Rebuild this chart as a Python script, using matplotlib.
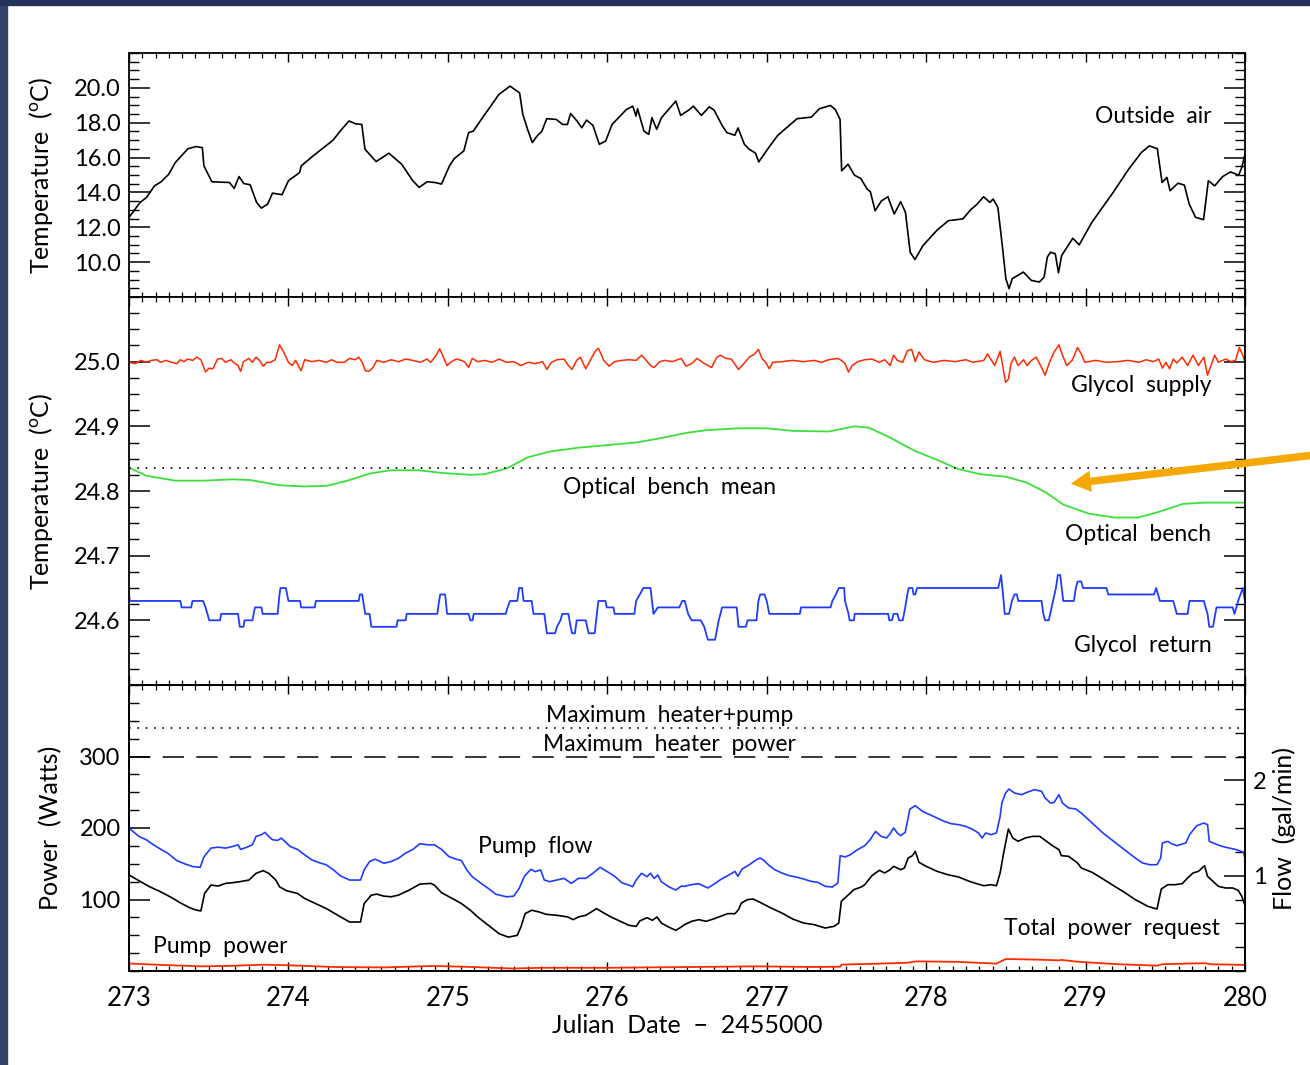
import matplotlib
matplotlib.use('Agg')
import matplotlib.pyplot as plt
from matplotlib.patches import Rectangle
from matplotlib.ticker import MultipleLocator, FixedLocator, FormatStrFormatter

plt.rcParams['font.family'] = ['Lato', 'DejaVu Sans']
plt.rcParams['mathtext.fontset'] = 'custom'
plt.rcParams['mathtext.rm'] = 'Lato'

# ---- outside air temperature (deg C)
air_day = [273.0, 273.07, 273.11, 273.16, 273.2, 273.25, 273.29, 273.37, 273.42, 273.46, 273.47, 273.52,
           273.63, 273.66, 273.69, 273.72, 273.76, 273.8, 273.83, 273.87, 273.9, 273.96, 274.0, 274.07,
           274.08, 274.15, 274.28, 274.33, 274.38, 274.42, 274.46, 274.48, 274.55, 274.63, 274.71, 274.78,
           274.82, 274.87, 274.92, 274.96, 275.01, 275.04, 275.1, 275.13, 275.16, 275.21, 275.32, 275.39,
           275.45, 275.47, 275.5, 275.53, 275.56, 275.59, 275.62, 275.68, 275.72, 275.75, 275.77, 275.81,
           275.84, 275.87, 275.91, 275.95, 275.99, 276.03, 276.12, 276.16, 276.18, 276.19, 276.23, 276.26,
           276.28, 276.31, 276.34, 276.43, 276.46, 276.51, 276.54, 276.59, 276.64, 276.67, 276.72, 276.75,
           276.8, 276.82, 276.86, 276.89, 276.93, 276.95, 277.02, 277.07, 277.19, 277.28, 277.33, 277.4,
           277.43, 277.46, 277.47, 277.51, 277.55, 277.59, 277.63, 277.65, 277.68, 277.72, 277.76, 277.8,
           277.84, 277.87, 277.9, 277.93, 277.98, 278.07, 278.14, 278.23, 278.28, 278.32, 278.36, 278.4,
           278.42, 278.45, 278.48, 278.5, 278.52, 278.54, 278.61, 278.66, 278.71, 278.74, 278.76, 278.78,
           278.81, 278.83, 278.85, 278.92, 278.96, 279.04, 279.17, 279.27, 279.35, 279.4, 279.45, 279.48,
           279.51, 279.53, 279.58, 279.62, 279.65, 279.69, 279.74, 279.77, 279.81, 279.86, 279.91, 279.96,
           279.98, 280.0]
air_temp = [12.57, 13.43, 13.71, 14.38, 14.6, 15.05, 15.71, 16.51, 16.63, 16.57, 15.52, 14.61,
            14.57, 14.23, 14.91, 14.51, 14.44, 13.43, 13.1, 13.33, 13.96, 13.87, 14.67, 15.14,
            15.52, 16.06, 17.0, 17.58, 18.1, 17.94, 17.9, 16.48, 15.77, 16.25, 15.62, 14.67,
            14.29, 14.61, 14.57, 14.48, 15.52, 15.94, 16.38, 17.43, 17.52, 18.19, 19.62, 20.1,
            19.71, 18.48, 17.62, 16.86, 17.24, 17.52, 18.23, 18.19, 17.9, 17.9, 18.53, 18.1,
            17.71, 18.15, 17.85, 16.76, 16.95, 17.9, 18.76, 18.95, 18.38, 18.8, 17.52, 17.33,
            18.29, 17.62, 18.29, 19.24, 18.42, 18.72, 18.95, 18.42, 18.91, 18.72, 17.85, 17.43,
            17.28, 17.7, 16.76, 16.48, 16.25, 15.75, 16.67, 17.28, 18.23, 18.32, 18.8, 18.99,
            18.76, 18.19, 15.24, 15.62, 14.99, 14.8, 14.19, 14.04, 12.95, 13.52, 13.75, 12.76,
            13.47, 12.86, 10.57, 10.15, 10.95, 11.85, 12.38, 12.48, 13.01, 13.33, 13.75, 13.43,
            13.62, 13.14, 10.76, 9.05, 8.48, 9.05, 9.43, 8.95, 8.86, 9.14, 10.29, 10.57,
            10.48, 9.39, 10.38, 11.37, 10.99, 12.29, 13.96, 15.33, 16.29, 16.67, 16.51, 14.57,
            14.86, 14.1, 14.53, 14.42, 13.33, 12.57, 12.44, 14.67, 14.38, 14.91, 15.18, 14.99,
            15.43, 16.19]

# ---- glycol supply temperature
sup_day = [273.0, 273.04, 273.074, 273.108, 273.141, 273.175, 273.198, 273.232, 273.266, 273.3, 273.322,
           273.345, 273.367, 273.401, 273.424, 273.451, 273.465, 273.48, 273.503, 273.526, 273.555, 273.582,
           273.605, 273.639, 273.661, 273.684, 273.7, 273.718, 273.752, 273.774, 273.797, 273.819, 273.842,
           273.865, 273.887, 273.917, 273.944, 273.966, 274.0, 274.023, 274.045, 274.079, 274.102, 274.147,
           274.192, 274.238, 274.271, 274.305, 274.35, 274.384, 274.418, 274.441, 274.463, 274.482, 274.504,
           274.531, 274.554, 274.599, 274.644, 274.69, 274.735, 274.78, 274.825, 274.87, 274.893, 274.927,
           274.949, 274.972, 274.995, 275.017, 275.051, 275.085, 275.108, 275.13, 275.153, 275.187, 275.232,
           275.277, 275.322, 275.368, 275.413, 275.458, 275.503, 275.548, 275.594, 275.621, 275.65, 275.684,
           275.729, 275.756, 275.779, 275.808, 275.831, 275.865, 275.887, 275.921, 275.944, 275.978, 276.012,
           276.045, 276.09, 276.136, 276.181, 276.215, 276.238, 276.271, 276.294, 276.328, 276.362, 276.407,
           276.441, 276.464, 276.493, 276.529, 276.563, 276.597, 276.631, 276.654, 276.688, 276.71, 276.744,
           276.778, 276.823, 276.846, 276.891, 276.925, 276.948, 276.97, 276.993, 277.016, 277.038, 277.095,
           277.163, 277.231, 277.298, 277.344, 277.389, 277.446, 277.468, 277.491, 277.513, 277.536, 277.57,
           277.615, 277.66, 277.706, 277.74, 277.774, 277.796, 277.819, 277.853, 277.882, 277.909, 277.932,
           277.955, 277.989, 278.045, 278.113, 278.181, 278.249, 278.294, 278.362, 278.385, 278.43, 278.464,
           278.48, 278.498, 278.516, 278.532, 278.554, 278.577, 278.611, 278.633, 278.661, 278.69, 278.724,
           278.746, 278.774, 278.803, 278.833, 278.855, 278.882, 278.916, 278.95, 278.973, 278.995, 279.063,
           279.131, 279.199, 279.267, 279.335, 279.38, 279.425, 279.459, 279.482, 279.504, 279.527, 279.55,
           279.572, 279.606, 279.64, 279.674, 279.708, 279.742, 279.765, 279.787, 279.81, 279.833, 279.878,
           279.912, 279.941, 279.964, 279.986, 280.0]
sup_temp = [24.999, 24.997, 25.002, 24.999, 25.002, 25.003, 24.999, 25.002, 24.999, 24.997, 25.003,
            25.0, 25.004, 25.002, 25.007, 25.003, 24.994, 24.984, 24.99, 24.989, 25.004, 25.005,
            24.999, 25.003, 24.998, 24.994, 24.985, 25.0, 25.005, 24.999, 25.007, 25.002, 24.993,
            24.999, 24.999, 25.003, 25.026, 25.017, 24.999, 24.994, 25.002, 24.986, 25.003, 25.0,
            25.002, 24.999, 25.003, 24.999, 24.999, 25.005, 25.003, 25.007, 24.999, 24.986, 24.985,
            24.991, 25.002, 24.999, 25.003, 25.0, 25.004, 25.002, 24.999, 25.004, 24.999, 25.01,
            25.02, 25.007, 24.994, 24.999, 25.004, 25.002, 24.999, 24.991, 25.005, 25.0, 25.002,
            24.999, 25.004, 24.999, 25.0, 24.994, 24.999, 24.997, 25.0, 24.988, 24.999, 25.003,
            25.004, 24.994, 24.988, 25.002, 25.007, 24.989, 24.999, 25.015, 25.021, 25.002, 24.993,
            25.0, 25.002, 25.003, 25.002, 25.01, 25.004, 24.994, 24.991, 25.0, 25.002, 25.0,
            25.003, 25.005, 24.993, 24.997, 25.005, 24.999, 24.994, 24.991, 25.007, 25.01, 25.005,
            25.004, 24.988, 24.994, 25.007, 25.012, 25.019, 25.005, 24.999, 24.989, 24.999, 25.0,
            25.002, 25.0, 25.002, 24.999, 25.003, 25.005, 25.002, 24.997, 24.984, 24.994, 25.0,
            25.003, 25.004, 24.999, 25.003, 24.994, 25.01, 25.002, 24.999, 25.017, 25.019, 25.0,
            25.015, 25.003, 24.999, 25.002, 25.0, 25.003, 24.999, 25.002, 25.012, 24.994, 25.016,
            24.994, 24.968, 24.973, 24.997, 25.007, 24.994, 25.003, 24.994, 25.002, 25.007, 24.991,
            24.979, 24.999, 25.015, 25.026, 25.01, 24.994, 25.002, 25.022, 25.012, 24.999, 25.002,
            24.999, 25.0, 25.002, 24.999, 25.003, 25.0, 25.004, 24.99, 24.999, 24.989, 25.004,
            24.998, 25.007, 24.994, 25.01, 24.994, 25.007, 24.979, 24.994, 25.01, 24.999, 25.004,
            25.0, 25.002, 25.022, 25.01, 24.999]

# ---- optical bench temperature
bench_day = [273.0, 273.11, 273.29, 273.47, 273.65, 273.76, 273.94, 274.1, 274.24, 274.37, 274.51, 274.64,
             274.82, 274.96, 275.14, 275.23, 275.37, 275.5, 275.64, 275.82, 276.0, 276.18, 276.32, 276.5,
             276.62, 276.82, 277.0, 277.16, 277.39, 277.55, 277.64, 277.77, 277.93, 278.07, 278.2, 278.34,
             278.5, 278.63, 278.75, 278.86, 279.02, 279.18, 279.33, 279.45, 279.61, 279.74, 280.0]
bench_temp = [24.836, 24.8235, 24.816, 24.816, 24.818, 24.817, 24.809, 24.807, 24.808, 24.816, 24.827, 24.832,
              24.832, 24.828, 24.825, 24.826, 24.835, 24.852, 24.861, 24.867, 24.871, 24.875, 24.881, 24.89,
              24.894, 24.897, 24.897, 24.893, 24.892, 24.9, 24.898, 24.883, 24.862, 24.848, 24.834, 24.826,
              24.822, 24.813, 24.798, 24.779, 24.765, 24.759, 24.759, 24.767, 24.78, 24.782, 24.782]
bench_mean = 24.835

# ---- glycol return temperature (0.01 C steps)
ret_day = [273.0, 273.005, 273.322, 273.33, 273.39, 273.398, 273.465, 273.48, 273.492, 273.503, 273.571,
           273.578, 273.684, 273.695, 273.718, 273.725, 273.774, 273.79, 273.831, 273.838, 273.932, 273.944,
           273.95, 273.984, 274.0, 274.072, 274.08, 274.165, 274.172, 274.441, 274.448, 274.463, 274.475,
           274.482, 274.509, 274.52, 274.678, 274.685, 274.735, 274.742, 274.934, 274.945, 274.952, 274.983,
           274.995, 275.13, 275.141, 275.155, 275.162, 275.363, 275.375, 275.39, 275.435, 275.447, 275.465,
           275.475, 275.526, 275.537, 275.605, 275.621, 275.673, 275.684, 275.706, 275.718, 275.756, 275.77,
           275.779, 275.797, 275.808, 275.865, 275.883, 275.921, 275.944, 275.989, 275.996, 276.039, 276.046,
           276.17, 276.181, 276.204, 276.226, 276.271, 276.29, 276.317, 276.452, 276.47, 276.486, 276.507,
           276.529, 276.586, 276.608, 276.631, 276.676, 276.699, 276.71, 276.72, 276.812, 276.823, 276.869,
           276.88, 276.936, 276.948, 276.959, 276.986, 277.0, 277.016, 277.208, 277.215, 277.4, 277.412,
           277.434, 277.452, 277.486, 277.491, 277.513, 277.52, 277.547, 277.552, 277.762, 277.769, 277.785,
           277.796, 277.82, 277.83, 277.853, 277.869, 277.882, 277.891, 277.914, 277.921, 277.932, 277.943,
           278.452, 278.47, 278.486, 278.493, 278.52, 278.538, 278.554, 278.57, 278.577, 278.724, 278.735,
           278.746, 278.769, 278.787, 278.814, 278.826, 278.841, 278.86, 278.927, 278.939, 278.95, 278.973,
           278.984, 279.131, 279.142, 279.43, 279.443, 279.466, 279.55, 279.572, 279.64, 279.652, 279.742,
           279.753, 279.765, 279.776, 279.799, 279.821, 279.923, 279.934, 279.946, 279.957, 279.986, 280.0]
ret_temp = [24.64, 24.63, 24.63, 24.62, 24.62, 24.63, 24.63, 24.62, 24.61, 24.60, 24.60,
            24.61, 24.61, 24.59, 24.59, 24.60, 24.60, 24.62, 24.62, 24.61, 24.61, 24.64,
            24.65, 24.65, 24.63, 24.63, 24.62, 24.62, 24.63, 24.63, 24.64, 24.64, 24.62,
            24.61, 24.61, 24.59, 24.59, 24.60, 24.60, 24.61, 24.61, 24.63, 24.64, 24.64,
            24.61, 24.61, 24.60, 24.60, 24.61, 24.61, 24.62, 24.63, 24.63, 24.65, 24.65,
            24.63, 24.63, 24.61, 24.61, 24.58, 24.58, 24.59, 24.60, 24.61, 24.61, 24.59,
            24.58, 24.58, 24.60, 24.60, 24.58, 24.58, 24.63, 24.63, 24.62, 24.62, 24.61,
            24.61, 24.63, 24.64, 24.65, 24.65, 24.61, 24.62, 24.62, 24.63, 24.63, 24.61,
            24.60, 24.60, 24.59, 24.57, 24.57, 24.60, 24.61, 24.62, 24.62, 24.59, 24.59,
            24.60, 24.60, 24.63, 24.64, 24.64, 24.63, 24.61, 24.61, 24.62, 24.62, 24.63,
            24.64, 24.65, 24.65, 24.63, 24.61, 24.60, 24.60, 24.61, 24.61, 24.60, 24.60,
            24.61, 24.61, 24.60, 24.60, 24.62, 24.64, 24.65, 24.65, 24.64, 24.64, 24.65,
            24.65, 24.67, 24.63, 24.61, 24.61, 24.63, 24.64, 24.64, 24.63, 24.63, 24.61,
            24.60, 24.60, 24.62, 24.65, 24.67, 24.67, 24.63, 24.63, 24.65, 24.66, 24.66,
            24.65, 24.65, 24.64, 24.64, 24.65, 24.63, 24.63, 24.61, 24.61, 24.63, 24.63,
            24.62, 24.61, 24.59, 24.59, 24.62, 24.62, 24.61, 24.62, 24.63, 24.65, 24.63]

# ---- pump flow (gal/min, right axis)
flow_day = [273.0, 273.062, 273.108, 273.153, 273.198, 273.243, 273.3, 273.356, 273.401, 273.447, 273.469,
            273.514, 273.56, 273.605, 273.65, 273.684, 273.7, 273.74, 273.774, 273.797, 273.831, 273.853,
            273.876, 273.899, 273.932, 273.955, 273.978, 274.011, 274.057, 274.102, 274.147, 274.192, 274.238,
            274.283, 274.328, 274.384, 274.452, 274.475, 274.509, 274.543, 274.599, 274.644, 274.69, 274.735,
            274.78, 274.825, 274.87, 274.915, 274.961, 275.006, 275.051, 275.085, 275.119, 275.153, 275.209,
            275.254, 275.3, 275.368, 275.413, 275.447, 275.481, 275.521, 275.548, 275.582, 275.605, 275.639,
            275.684, 275.729, 275.774, 275.819, 275.865, 275.91, 275.955, 276.0, 276.045, 276.091, 276.136,
            276.159, 276.181, 276.215, 276.249, 276.271, 276.294, 276.317, 276.339, 276.385, 276.43, 276.464,
            276.484, 276.529, 276.574, 276.608, 276.631, 276.665, 276.71, 276.755, 276.801, 276.819, 276.846,
            276.891, 276.936, 276.959, 276.982, 277.016, 277.05, 277.095, 277.14, 277.185, 277.231, 277.276,
            277.321, 277.366, 277.412, 277.446, 277.461, 277.491, 277.525, 277.57, 277.615, 277.649, 277.683,
            277.717, 277.751, 277.774, 277.796, 277.819, 277.841, 277.869, 277.898, 277.932, 277.977, 278.023,
            278.068, 278.113, 278.158, 278.203, 278.249, 278.294, 278.328, 278.351, 278.373, 278.407, 278.441,
            278.464, 278.475, 278.498, 278.52, 278.554, 278.599, 278.633, 278.679, 278.724, 278.746, 278.78,
            278.803, 278.833, 278.855, 278.894, 278.939, 278.973, 279.041, 279.109, 279.176, 279.244, 279.312,
            279.357, 279.403, 279.448, 279.471, 279.482, 279.516, 279.538, 279.572, 279.629, 279.652, 279.697,
            279.742, 279.765, 279.776, 279.81, 279.855, 279.9, 279.946, 279.991, 280.0]
flow_gpm = [1.5, 1.412, 1.377, 1.324, 1.278, 1.236, 1.158, 1.12, 1.095, 1.088, 1.194,
            1.289, 1.299, 1.289, 1.306, 1.324, 1.275, 1.299, 1.324, 1.412, 1.43, 1.454,
            1.412, 1.377, 1.37, 1.394, 1.359, 1.306, 1.275, 1.218, 1.165, 1.137, 1.113,
            1.06, 0.996, 0.954, 0.954, 1.06, 1.148, 1.173, 1.13, 1.148, 1.183, 1.236,
            1.275, 1.335, 1.324, 1.324, 1.275, 1.201, 1.173, 1.158, 1.06, 0.989, 0.919,
            0.866, 0.806, 0.778, 0.785, 0.866, 0.996, 1.067, 1.042, 1.06, 0.954, 0.937,
            0.954, 0.972, 0.919, 0.972, 0.972, 1.025, 1.088, 1.042, 0.996, 0.926, 0.901,
            0.884, 0.954, 1.025, 0.989, 1.025, 0.972, 1.007, 0.937, 0.884, 0.849, 0.891,
            0.888, 0.906, 0.916, 0.888, 0.871, 0.906, 0.958, 1.0, 1.045, 0.993, 1.07,
            1.115, 1.168, 1.185, 1.161, 1.105, 1.063, 1.028, 1.0, 0.986, 0.965, 0.941,
            0.93, 0.888, 0.881, 0.923, 1.21, 1.196, 1.22, 1.273, 1.315, 1.378, 1.465,
            1.413, 1.395, 1.441, 1.5, 1.448, 1.42, 1.455, 1.699, 1.734, 1.675, 1.64,
            1.605, 1.57, 1.545, 1.535, 1.517, 1.483, 1.448, 1.395, 1.448, 1.43, 1.448,
            1.622, 1.762, 1.867, 1.909, 1.867, 1.85, 1.874, 1.902, 1.885, 1.815, 1.762,
            1.769, 1.85, 1.762, 1.71, 1.699, 1.657, 1.552, 1.448, 1.36, 1.273, 1.185,
            1.133, 1.115, 1.115, 1.185, 1.343, 1.36, 1.336, 1.315, 1.343, 1.43, 1.524,
            1.552, 1.535, 1.36, 1.336, 1.308, 1.29, 1.273, 1.245, 1.175]

# ---- total power request (W)
total_day = [273.0, 273.062, 273.13, 273.198, 273.266, 273.322, 273.379, 273.424, 273.451, 273.474, 273.514,
             273.56, 273.605, 273.65, 273.695, 273.752, 273.797, 273.842, 273.876, 273.921, 273.944, 273.989,
             274.057, 274.102, 274.17, 274.238, 274.328, 274.384, 274.452, 274.475, 274.52, 274.554, 274.599,
             274.644, 274.69, 274.757, 274.825, 274.893, 274.915, 274.961, 275.028, 275.085, 275.141, 275.187,
             275.254, 275.322, 275.379, 275.435, 275.458, 275.485, 275.526, 275.571, 275.616, 275.684, 275.752,
             275.786, 275.819, 275.865, 275.91, 275.932, 275.978, 276.023, 276.091, 276.136, 276.181, 276.204,
             276.249, 276.283, 276.312, 276.339, 276.385, 276.43, 276.464, 276.484, 276.529, 276.574, 276.62,
             276.665, 276.71, 276.755, 276.801, 276.823, 276.841, 276.88, 276.914, 276.959, 277.027, 277.095,
             277.163, 277.231, 277.298, 277.366, 277.423, 277.452, 277.468, 277.502, 277.547, 277.593, 277.615,
             277.66, 277.706, 277.74, 277.774, 277.796, 277.841, 277.864, 277.887, 277.914, 277.932, 277.955,
             278.0, 278.068, 278.136, 278.203, 278.271, 278.317, 278.362, 278.407, 278.441, 278.464, 278.486,
             278.516, 278.543, 278.577, 278.622, 278.667, 278.713, 278.746, 278.792, 278.833, 278.848, 278.894,
             278.95, 278.973, 279.041, 279.109, 279.176, 279.244, 279.312, 279.391, 279.448, 279.475, 279.516,
             279.561, 279.606, 279.64, 279.674, 279.708, 279.746, 279.765, 279.799, 279.833, 279.878, 279.923,
             279.957, 279.98, 280.0]
total_watts = [134.3, 126.3, 117.8, 110.8, 102.8, 95.3, 88.7, 85.0, 84.0, 108.5, 120.2,
               118.8, 122.5, 123.5, 124.9, 127.2, 136.6, 140.4, 136.6, 127.2, 117.8, 112.2,
               108.5, 101.4, 94.4, 87.3, 75.6, 68.5, 68.5, 94.4, 106.1, 107.5, 104.7,
               103.8, 106.1, 113.1, 121.6, 122.5, 120.2, 109.4, 101.4, 94.4, 85.0, 75.6,
               63.9, 52.1, 47.4, 49.8, 61.5, 80.3, 85.0, 82.6, 79.3, 77.9, 75.6,
               71.8, 75.6, 77.9, 84.0, 87.3, 81.2, 75.6, 68.5, 63.9, 62.4, 70.0,
               74.6, 70.9, 75.6, 67.1, 61.5, 56.8, 61.5, 64.8, 69.5, 71.8, 69.5,
               72.7, 76.5, 80.2, 80.2, 85.8, 95.1, 99.8, 100.7, 96.0, 88.1, 81.1,
               72.7, 67.1, 64.8, 60.1, 62.5, 67.1, 97.4, 104.4, 113.8, 117.5, 120.7,
               133.3, 140.8, 137.1, 141.7, 146.4, 141.7, 144.1, 158.0, 161.3, 167.4, 152.0,
               146.4, 139.4, 134.7, 131.5, 125.4, 122.1, 119.3, 120.7, 119.3, 137.1, 165.0,
               198.6, 186.0, 181.4, 186.0, 188.3, 188.3, 182.8, 175.3, 169.7, 161.3, 160.4,
               151.0, 144.1, 138.0, 128.7, 119.3, 110.0, 99.8, 90.4, 86.7, 114.7, 120.7,
               120.7, 122.1, 130.1, 137.1, 139.4, 147.3, 132.4, 125.4, 118.4, 116.1, 116.1,
               112.8, 104.4, 91.4]

# ---- pump power (W)
pump_day = [273.0, 273.2, 273.45, 273.6, 273.85, 274.0, 274.3, 274.6, 274.9, 275.1, 275.4, 275.6, 276.0,
            276.5, 276.93, 277.3, 277.46, 277.47, 277.7, 277.88, 277.94, 278.2, 278.44, 278.5, 278.7,
            278.83, 278.85, 278.95, 279.2, 279.45, 279.48, 279.75, 279.78, 280.0]
pump_watts = [10.5, 8.5, 6.5, 7.0, 8.8, 8.0, 5.5, 5.0, 7.0, 6.0, 3.5, 4.5, 4.5,
              5.5, 6.5, 5.6, 6.0, 8.9, 10.3, 11.5, 13.5, 12.8, 10.3, 16.8, 15.9,
              14.9, 15.5, 13.0, 9.5, 7.5, 9.5, 11.0, 9.5, 8.5]

max_heater_pump = 340.0
max_heater = 300.0

RED = '#ff2a00'; GREEN = '#3ce03c'; BLUE = '#1f3cff'
FS_TICK = 17; FS_XTICK = 18.5; FS_LAB = 18; FS_TXT = 16.5

fig = plt.figure(figsize=(13.1, 10.65), dpi=100)
W, H = 1310.0, 1065.0
x0, x1 = 129, 1245
fig.patches.append(Rectangle((0, 0), 7 / W, 1, transform=fig.transFigure, color='#33436a', zorder=0))
fig.patches.append(Rectangle((0, 1 - 5 / H), 1, 5 / H, transform=fig.transFigure, color='#25335a', zorder=0))

def panel(top, bot):
    return fig.add_axes([x0 / W, 1 - bot / H, (x1 - x0) / W, (bot - top) / H])

ax1 = panel(53, 297)
ax2 = panel(297, 685)
ax3 = panel(685, 971)
ax3b = ax3.twinx()

for ax in (ax1, ax2, ax3, ax3b):
    ax.set_xlim(273, 280)
    for s in ax.spines.values():
        s.set_linewidth(1.3)
    ax.xaxis.set_major_locator(MultipleLocator(1))
    ax.xaxis.set_minor_locator(MultipleLocator(1 / 12))
    ax.tick_params(axis='x', which='major', direction='in', length=6.5, width=1.0, top=True,
                   labelsize=FS_XTICK, pad=11)
    ax.tick_params(axis='x', which='minor', direction='in', length=3.3, width=0.9, top=True)
    ax.tick_params(axis='y', which='major', direction='in', length=15, width=1.1, labelsize=FS_TICK, pad=6)
    ax.tick_params(axis='y', which='minor', direction='in', length=7.5, width=1.0)

for ax in (ax1, ax2):
    ax.tick_params(axis='y', which='both', right=True)
    ax.tick_params(axis='x', labelbottom=False)
ax3.tick_params(axis='y', which='both', right=False)
ax3b.tick_params(axis='y', which='both', left=False, right=True)

# top: outside air
ax1.plot(air_day, air_temp, color='black', lw=1.2)
ax1.set_ylim(8, 22)
ax1.yaxis.set_major_locator(FixedLocator([10, 12, 14, 16, 18, 20]))
ax1.yaxis.set_major_formatter(FormatStrFormatter('%.1f'))
ax1.yaxis.set_minor_locator(MultipleLocator(0.5))
ax1.set_ylabel(r'Temperature  ($^{\rm o}$C)', fontsize=FS_LAB)
ax1.yaxis.set_label_coords(-0.066, 0.5)
ax1.text(279.79, 18.36, 'Outside  air', ha='right', va='center', fontsize=FS_TXT)

# middle: glycol / bench
ax2.plot(sup_day, sup_temp, color=RED, lw=1.1)
ax2.plot(bench_day, bench_temp, color=GREEN, lw=1.3)
ax2.plot(ret_day, ret_temp, color=BLUE, lw=1.3)
ax2.axhline(bench_mean, color='black', lw=1.2, ls=(0, (1.0, 4.0)))
ax2.set_ylim(24.5, 25.1)
ax2.yaxis.set_major_locator(FixedLocator([24.6, 24.7, 24.8, 24.9, 25.0]))
ax2.yaxis.set_major_formatter(FormatStrFormatter('%.1f'))
ax2.yaxis.set_minor_locator(MultipleLocator(0.025))
ax2.set_ylabel(r'Temperature  ($^{\rm o}$C)', fontsize=FS_LAB)
ax2.yaxis.set_label_coords(-0.066, 0.5)
ax2.text(279.79, 24.963, 'Glycol  supply', ha='right', va='center', fontsize=FS_TXT)
ax2.text(276.39, 24.806, 'Optical  bench  mean', ha='center', va='center', fontsize=FS_TXT)
ax2.text(279.79, 24.732, 'Optical  bench', ha='right', va='center', fontsize=FS_TXT)
ax2.text(279.79, 24.561, 'Glycol  return', ha='right', va='center', fontsize=FS_TXT)

# bottom: power + flow
ax3.plot(total_day, total_watts, color='black', lw=1.2)
ax3.plot(pump_day, pump_watts, color=RED, lw=1.3)
ax3.axhline(max_heater_pump, color='black', lw=1.2, ls=(0, (1.0, 4.0)))
ax3.axhline(max_heater, color='black', lw=1.1, ls=(0, (14, 8)))
ax3.set_ylim(0, 400)
ax3.yaxis.set_major_locator(FixedLocator([100, 200, 300]))
ax3.yaxis.set_minor_locator(MultipleLocator(25))
ax3.set_ylabel('Power  (Watts)', fontsize=FS_LAB)
ax3.yaxis.set_label_coords(-0.06, 0.5)
ax3.set_xlabel('Julian  Date  \u2212  2455000', fontsize=FS_LAB, labelpad=2)
ax3.text(276.39, 357, 'Maximum  heater+pump', ha='center', va='center', fontsize=FS_TXT)
ax3.text(276.39, 317, 'Maximum  heater  power', ha='center', va='center', fontsize=FS_TXT)
ax3.text(275.55, 174, 'Pump  flow', ha='center', va='center', fontsize=FS_TXT)
ax3.text(279.84, 59.5, 'Total  power  request', ha='right', va='center', fontsize=FS_TXT)
ax3.text(273.15, 34, 'Pump  power', ha='left', va='center', fontsize=FS_TXT)
ax3.set_xticks([273, 274, 275, 276, 277, 278, 279, 280])

ax3b.plot(flow_day, flow_gpm, color=BLUE, lw=1.2)
ax3b.set_ylim(0, 3)
ax3b.yaxis.set_major_locator(FixedLocator([1, 2]))
ax3b.yaxis.set_minor_locator(MultipleLocator(0.25))
ax3b.set_ylabel('Flow  (gal/min)', fontsize=FS_LAB, rotation=90)
ax3b.yaxis.set_label_coords(1.025, 0.5)
ax3b.tick_params(axis='x', labelbottom=False)

# orange pointer arrow entering from the right edge
ax2.annotate('', xy=(1068 / W, 1 - 484 / H), xycoords='figure fraction',
             xytext=(1.01, 1 - 454 / H), textcoords='figure fraction',
             arrowprops=dict(arrowstyle='simple,head_length=0.8,head_width=0.85,tail_width=0.3',
                             fc='#f5a800', ec='none', mutation_scale=18),
             annotation_clip=False)

fig.savefig('out.png', dpi=100)
